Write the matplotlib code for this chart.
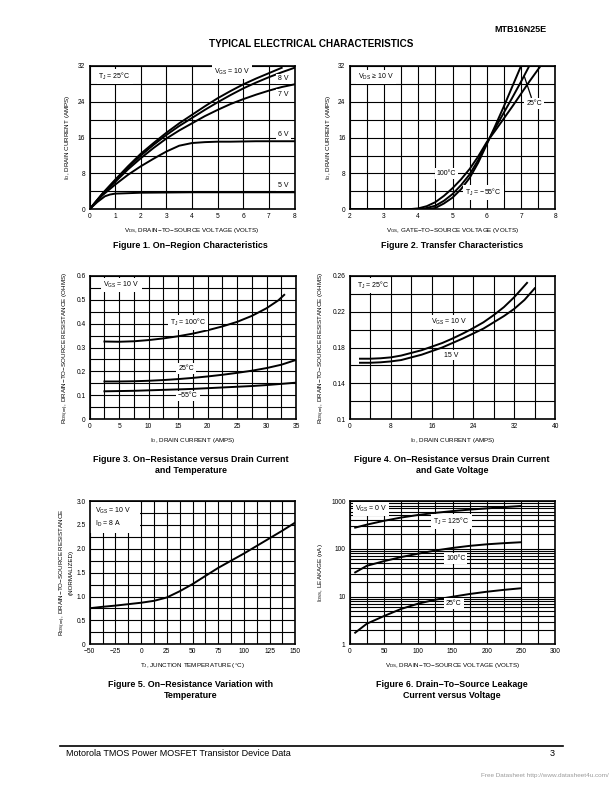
import matplotlib
matplotlib.use('Agg')
import matplotlib.pyplot as plt
from matplotlib.ticker import MultipleLocator, FuncFormatter, LogLocator, NullFormatter, FixedLocator
from matplotlib.lines import Line2D
from matplotlib.patches import Rectangle

plt.rcParams['font.family'] = ['Liberation Sans', 'DejaVu Sans']
plt.rcParams['mathtext.fontset'] = 'custom'
plt.rcParams['mathtext.rm'] = 'Liberation Sans'
plt.rcParams['mathtext.it'] = 'Liberation Sans:italic'
plt.rcParams['mathtext.bf'] = 'Liberation Sans:bold'
plt.rcParams['mathtext.default'] = 'regular'

# ---------------- Figure 1 : On-region characteristics ----------------
f1_vds = [0, 0.5, 1, 1.5, 2, 2.5, 3, 3.5, 4, 4.5, 5, 5.5, 6, 6.5, 7, 7.5, 8]
f1_id_10v = [0, 3.5, 6.6, 9.6, 12.4, 14.8, 17.1, 19.2, 21.1, 23.0, 24.8, 26.4, 27.9, 29.2, 30.4, 31.6, None]
f1_id_8v = [0, 3.4, 6.4, 9.3, 12.0, 14.4, 16.6, 18.6, 20.4, 22.2, 23.9, 25.5, 27.0, 28.3, 29.5, 30.6, 31.6]
f1_id_7v = [0, 3.3, 6.1, 8.9, 11.4, 13.7, 15.8, 17.6, 19.2, 20.8, 22.2, 23.5, 24.6, 25.6, 26.5, 27.3, 27.9]
f1_id_6v = [0, 3.1, 5.5, 7.7, 9.6, 11.3, 12.9, 14.2, 14.8, 15.0, 15.1, 15.1, 15.15, 15.2, 15.2, 15.2, 15.2]
f1_vds_5v = [0, 0.3, 0.6, 0.8, 1, 1.5, 2, 3, 4, 5, 6, 7, 8]
f1_id_5v = [0, 1.6, 2.9, 3.3, 3.5, 3.6, 3.7, 3.75, 3.8, 3.8, 3.8, 3.8, 3.8]
f1_vgs_labels = ['8 V', '7 V', '6 V', '5 V']

# ---------------- Figure 2 : Transfer characteristics ----------------
f2_vgs_m55 = [2, 3, 4.0, 4.3, 4.5, 4.75, 5.0, 5.25, 5.5, 5.75, 6.0, 6.25, 6.5, 6.75, 7.0]
f2_id_m55 = [0, 0, 0, 0.05, 0.3, 1.3, 2.6, 4.5, 7.0, 10.4, 14.5, 18.7, 23.0, 27.5, 32]
f2_vgs_25 = [2, 3, 3.9, 4.2, 4.5, 4.75, 5.0, 5.25, 5.5, 5.75, 6.0, 6.25, 6.5, 6.75, 7.0, 7.24]
f2_id_25 = [0, 0, 0, 0.2, 0.8, 1.9, 3.4, 5.4, 7.8, 11.0, 14.8, 18.2, 21.6, 25.0, 28.5, 32]
f2_vgs_100 = [2, 3, 3.7, 4.0, 4.25, 4.5, 4.75, 5.0, 5.25, 5.5, 5.75, 6.0, 6.25, 6.5, 6.75, 7.0, 7.25, 7.55]
f2_id_100 = [0, 0, 0, 0.2, 0.7, 1.6, 3.0, 4.7, 6.7, 9.0, 11.8, 15.0, 17.6, 20.3, 23.0, 25.8, 28.6, 31.8]

# ---------------- Figure 3 : RDS(on) vs ID and temperature ----------------
f3_id_100 = [2.5, 5, 7.5, 10, 12.5, 15, 17.5, 20, 22.5, 25, 27.5, 30, 32, 33]
f3_r_100 = [0.325, 0.324, 0.326, 0.331, 0.338, 0.347, 0.358, 0.372, 0.388, 0.407, 0.432, 0.464, 0.497, 0.52]
f3_id = [2.5, 5, 7.5, 10, 12.5, 15, 17.5, 20, 22.5, 25, 27.5, 30, 32.5, 35]
f3_r_25 = [0.158, 0.158, 0.159, 0.161, 0.164, 0.168, 0.173, 0.179, 0.186, 0.194, 0.203, 0.214, 0.228, 0.248]
f3_r_m55 = [0.117, 0.118, 0.119, 0.121, 0.123, 0.125, 0.127, 0.130, 0.133, 0.136, 0.139, 0.143, 0.148, 0.153]

# ---------------- Figure 4 : RDS(on) vs ID and gate voltage ----------------
f4_id_10v = [2, 4, 6, 8, 10, 12, 14, 16, 18, 20, 22, 24, 26, 28, 30, 32, 34.5]
f4_r_10v = [0.1675, 0.1675, 0.168, 0.169, 0.171, 0.174, 0.177, 0.181, 0.185, 0.19, 0.1955, 0.2015, 0.208, 0.216, 0.225, 0.236, 0.252]
f4_id_15v = [2, 4, 6, 8, 10, 12, 14, 16, 18, 20, 22, 24, 26, 28, 30, 32, 34, 36]
f4_r_15v = [0.163, 0.163, 0.1635, 0.1645, 0.166, 0.169, 0.172, 0.176, 0.18, 0.185, 0.19, 0.1955, 0.201, 0.208, 0.215, 0.223, 0.233, 0.246]
f4_yticks = [0.1, 0.14, 0.18, 0.22, 0.26]

# ---------------- Figure 5 : normalized RDS(on) vs temperature ----------------
f5_tj = [-50, -37.5, -25, -12.5, 0, 12.5, 25, 37.5, 50, 62.5, 75, 87.5, 100, 112.5, 125, 137.5, 150]
f5_rn = [0.755, 0.785, 0.81, 0.84, 0.87, 0.91, 0.98, 1.11, 1.26, 1.43, 1.6, 1.75, 1.9, 2.06, 2.22, 2.38, 2.55]

# ---------------- Figure 6 : leakage vs VDS ----------------
f6_vds = [8, 25, 50, 75, 100, 125, 150, 175, 200, 225, 250]
f6_i_125 = [277, 320, 385, 450, 510, 565, 615, 660, 700, 745, 785]
f6_i_100 = [32, 44, 55, 67, 79, 92, 104, 115, 124, 131, 137]
f6_i_25 = [1.75, 2.7, 3.9, 5.5, 7.1, 8.6, 9.9, 11.3, 12.6, 13.8, 14.9]

W, H = 612, 792
fig = plt.figure(figsize=(W / 100, H / 100), dpi=100)

def rect(x0, y0, x1, y1):
    return [x0 / W, 1 - y1 / H, (x1 - x0) / W, (y1 - y0) / H]

TICK_FS = 4.8
LAB_FS = 4.5
TXT_FS = 5.0
LW = 1.4

def setup(ax, xmaj, xmin, ymaj, ymin, log=False):
    ax.xaxis.set_major_locator(MultipleLocator(xmaj))
    ax.xaxis.set_minor_locator(MultipleLocator(xmin))
    if not log:
        ax.yaxis.set_major_locator(MultipleLocator(ymaj))
        ax.yaxis.set_minor_locator(MultipleLocator(ymin))
    ax.grid(which='both', color='black', lw=0.8, zorder=1)
    ax.set_axisbelow(True)
    ax.tick_params(which='both', length=0, labelsize=TICK_FS, pad=3)
    for s in ax.spines.values():
        s.set_linewidth(1.2)

def label(ax, x, y, s, **kw):
    ax.text(x, y, s, fontsize=TXT_FS, ha='left', va='center', zorder=4,
            bbox=dict(facecolor='white', edgecolor='none', pad=1.4), **kw)

# ---- Axes 1
ax1 = fig.add_axes(rect(89.5, 66, 294.5, 209.3))
ax1.set_xlim(0, 8); ax1.set_ylim(0, 32)
setup(ax1, 1, 1, 8, 4)
ax1.plot(f1_vds[:-1], f1_id_10v[:-1], color='black', lw=LW, zorder=3)
ax1.plot(f1_vds, f1_id_8v, color='black', lw=LW, zorder=3)
ax1.plot(f1_vds, f1_id_7v, color='black', lw=LW, zorder=3)
ax1.plot(f1_vds, f1_id_6v, color='black', lw=LW, zorder=3)
ax1.plot(f1_vds_5v, f1_id_5v, color='black', lw=LW, zorder=3)
label(ax1, 0.35, 29.6, r'T$_J$ = 25°C')
label(ax1, 4.86, 30.7, r'V$_{GS}$ = 10 V')
for s, yy in zip(f1_vgs_labels, [29.1, 25.7, 16.6, 5.3]):
    label(ax1, 7.37, yy, s)
ax1.set_xlabel(r'V$_{DS}$, DRAIN−TO−SOURCE VOLTAGE (VOLTS)', fontsize=LAB_FS)
ax1.set_ylabel(r'I$_D$, DRAIN CURRENT (AMPS)', fontsize=LAB_FS)

# ---- Axes 2
ax2 = fig.add_axes(rect(349.7, 66, 555.3, 209.3))
ax2.set_xlim(2, 8); ax2.set_ylim(0, 32)
setup(ax2, 1, 0.5, 8, 4)
ax2.plot(f2_vgs_m55, f2_id_m55, color='black', lw=LW, zorder=3)
ax2.plot(f2_vgs_25, f2_id_25, color='black', lw=LW, zorder=3)
ax2.plot(f2_vgs_100, f2_id_100, color='black', lw=LW, zorder=3)
label(ax2, 2.25, 29.6, r'V$_{DS}$ ≥ 10 V')
label(ax2, 4.54, 7.9, '100°C')
label(ax2, 5.37, 3.8, r'T$_J$ = −55°C')
label(ax2, 7.15, 23.7, '25°C')
ax2.add_line(Line2D([7.3, 7.1], [25.0, 29.6], color='black', lw=0.9, zorder=4))
ax2.set_xlabel(r'V$_{GS}$, GATE−TO−SOURCE VOLTAGE (VOLTS)', fontsize=LAB_FS)
ax2.set_ylabel(r'I$_D$, DRAIN CURRENT (AMPS)', fontsize=LAB_FS)

# ---- Axes 3
ax3 = fig.add_axes(rect(89.7, 275.7, 296, 419.3))
ax3.set_xlim(0, 35); ax3.set_ylim(0, 0.6)
setup(ax3, 5, 2.5, 0.1, 0.05)
ax3.yaxis.set_major_formatter(FuncFormatter(lambda v, p: '0' if abs(v) < 1e-9 else f'{v:.1f}'))
ax3.plot(f3_id_100, f3_r_100, color='black', lw=LW, zorder=3)
ax3.plot(f3_id, f3_r_25, color='black', lw=LW, zorder=3)
ax3.plot(f3_id, f3_r_m55, color='black', lw=LW, zorder=3)
label(ax3, 2.3, 0.561, r'V$_{GS}$ = 10 V')
label(ax3, 13.6, 0.404, r'T$_J$ = 100°C')
label(ax3, 15.0, 0.213, '25°C')
label(ax3, 15.0, 0.0975, '−55°C')
ax3.set_xlabel(r'I$_D$, DRAIN CURRENT (AMPS)', fontsize=LAB_FS)
ax3.set_ylabel(r'R$_{DS(on)}$, DRAIN−TO−SOURCE RESISTANCE (OHMS)', fontsize=LAB_FS)

# ---- Axes 4
ax4 = fig.add_axes(rect(349.7, 275.7, 555.3, 419.3))
ax4.set_xlim(0, 40); ax4.set_ylim(0.1, 0.26)
setup(ax4, 8, 4, 0.04, 0.02)
ax4.yaxis.set_major_locator(FixedLocator(f4_yticks))
ax4.yaxis.set_major_formatter(FuncFormatter(lambda v, p: f'{round(v, 3):g}'))
ax4.plot(f4_id_10v, f4_r_10v, color='black', lw=LW, zorder=3)
ax4.plot(f4_id_15v, f4_r_15v, color='black', lw=LW, zorder=3)
label(ax4, 1.36, 0.2488, r'T$_J$ = 25°C')
label(ax4, 15.9, 0.208, r'V$_{GS}$ = 10 V')
label(ax4, 18.3, 0.1716, '15 V')
ax4.set_xlabel(r'I$_D$, DRAIN CURRENT (AMPS)', fontsize=LAB_FS)
ax4.set_ylabel(r'R$_{DS(on)}$, DRAIN−TO−SOURCE RESISTANCE (OHMS)', fontsize=LAB_FS)

# ---- Axes 5
ax5 = fig.add_axes(rect(89.7, 501, 295.3, 644.3))
ax5.set_xlim(-50, 150); ax5.set_ylim(0, 3.0)
setup(ax5, 25, 12.5, 0.5, 0.25)
ax5.yaxis.set_major_formatter(FuncFormatter(lambda v, p: '0' if abs(v) < 1e-9 else f'{v:.1f}'))
ax5.plot(f5_tj, f5_rn, color='black', lw=LW, zorder=3)
ax5.add_patch(Rectangle((-49.5, 2.33), 48, 0.65, facecolor='white', edgecolor='none', zorder=2))
ax5.text(-44.8, 2.8, 'V$_{GS}$ = 10 V', fontsize=TXT_FS, ha='left', va='center', zorder=4)
ax5.text(-44.8, 2.53, 'I$_D$ = 8 A', fontsize=TXT_FS, ha='left', va='center', zorder=4)
ax5.set_xlabel(r'T$_J$, JUNCTION TEMPERATURE (°C)', fontsize=LAB_FS)
ax5.set_ylabel('R$_{DS(on)}$, DRAIN−TO−SOURCE RESISTANCE\n(NORMALIZED)', fontsize=LAB_FS,
               linespacing=1.2)

# ---- Axes 6
ax6 = fig.add_axes(rect(349.7, 501, 555.3, 644.3))
ax6.set_yscale('log')
ax6.set_xlim(0, 300); ax6.set_ylim(1, 1000)
setup(ax6, 50, 25, None, None, log=True)
ax6.yaxis.set_major_locator(FixedLocator([1, 10, 100, 1000]))
ax6.yaxis.set_minor_locator(LogLocator(base=10, subs=range(2, 10)))
ax6.yaxis.set_minor_formatter(NullFormatter())
ax6.yaxis.set_major_formatter(FuncFormatter(lambda v, p: f'{int(round(v))}'))
ax6.plot(f6_vds, f6_i_125, color='black', lw=LW, zorder=3)
ax6.plot(f6_vds, f6_i_100, color='black', lw=LW, zorder=3)
ax6.plot(f6_vds, f6_i_25, color='black', lw=LW, zorder=3)
label(ax6, 7.8, 670, r'V$_{GS}$ = 0 V')
label(ax6, 122, 370, r'T$_J$ = 125°C')
label(ax6, 140.5, 63, '100°C')
label(ax6, 140.5, 7.2, '25°C')
ax6.set_xlabel(r'V$_{DS}$, DRAIN−TO−SOURCE VOLTAGE (VOLTS)', fontsize=LAB_FS)
ax6.set_ylabel(r'I$_{DSS}$, LEAKAGE (nA)', fontsize=LAB_FS)

for ax in (ax1, ax2, ax3, ax4, ax5, ax6):
    ax.xaxis.labelpad = 4
    ax.yaxis.labelpad = 4
ax5.yaxis.labelpad = 2

# ---- Page texts
def ftext(x, y, s, **kw):
    fig.text(x / W, 1 - y / H, s, **kw)

ftext(520, 29, 'MTB16N25E', fontsize=6.5, fontweight='bold', ha='center', va='center')
ftext(311, 44, 'TYPICAL ELECTRICAL CHARACTERISTICS', fontsize=7.1, fontweight='bold',
      ha='center', va='center')
ftext(190, 246, 'Figure 1. On−Region Characteristics', fontsize=6.4, fontweight='bold',
      ha='center', va='center')
ftext(452, 246, 'Figure 2. Transfer Characteristics', fontsize=6.4, fontweight='bold',
      ha='center', va='center')
ftext(191, 465, 'Figure 3. On−Resistance versus Drain Current\nand Temperature', fontsize=6.4,
      fontweight='bold', ha='center', va='center', linespacing=1.25)
ftext(452, 465, 'Figure 4. On−Resistance versus Drain Current\nand Gate Voltage', fontsize=6.4,
      fontweight='bold', ha='center', va='center', linespacing=1.25)
ftext(191, 690, 'Figure 5. On−Resistance Variation with\nTemperature', fontsize=6.4,
      fontweight='bold', ha='center', va='center', linespacing=1.25)
ftext(452, 690, 'Figure 6. Drain−To−Source Leakage\nCurrent versus Voltage', fontsize=6.4,
      fontweight='bold', ha='center', va='center', linespacing=1.25)

fig.add_artist(Line2D([60 / W, 563 / W], [1 - 746 / H, 1 - 746 / H], color='black', lw=1.2))
ftext(66, 754, 'Motorola TMOS Power MOSFET Transistor Device Data', fontsize=6.5,
      ha='left', va='center')
ftext(552, 754, '3', fontsize=6.5, ha='center', va='center')
ftext(609, 776, 'Free Datasheet http://www.datasheet4u.com/', fontsize=4.6, color='#9a9a9a',
      ha='right', va='center')

fig.savefig('out.png', dpi=100)
